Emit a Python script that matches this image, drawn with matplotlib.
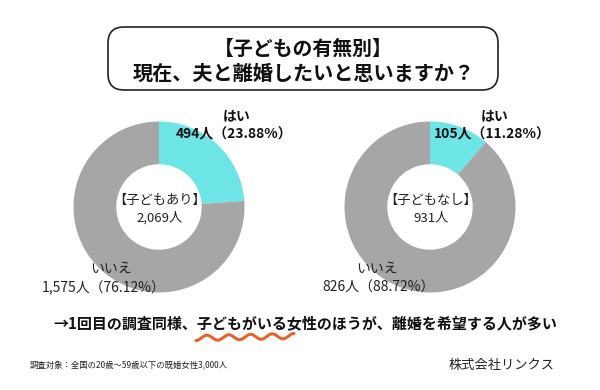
import numpy as np
import matplotlib
matplotlib.use("Agg")
import matplotlib.pyplot as plt
from matplotlib.patches import FancyBboxPatch

plt.rcParams['font.family'] = ['Noto Sans CJK JP', 'DejaVu Sans']

# ---- data ----
groups = ['【子どもあり】', '【子どもなし】']
answers = ['はい', 'いいえ']
yes_counts = [494, 105]
no_counts = [1575, 826]
yes_pct = [23.88, 11.28]
no_pct = [76.12, 88.72]
title_lines = ['【子どもの有無別】', '現在、夫と離婚したいと思いますか？']
note = '→1回目の調査同様、子どもがいる女性のほうが、離婚を希望する人が多い'
footer_left = '調査対象：全国の20歳～59歳以下の既婚女性3,000人'
footer_right = '株式会社リンクス'

colors = ['#6de4e6', '#a6a6a6']

W, H = 600, 390
fig = plt.figure(figsize=(6, 3.9), dpi=100)
ax = fig.add_axes([0, 0, 1, 1])

def Y(y):
    return H - y

centers = [(159, 207), (430, 207)]
radius = 85.5
for i, (cx, cy) in enumerate(centers):
    ax.pie([yes_counts[i], no_counts[i]], colors=colors, startangle=90,
           counterclock=False, center=(cx, Y(cy)), radius=radius,
           wedgeprops=dict(width=radius * 0.5, linewidth=0), frame=True)
    total = yes_counts[i] + no_counts[i]
    ax.text(cx + 1, Y(200), groups[i], ha='center', va='center', fontsize=9.5, color='#222222')
    ax.text(cx + 1, Y(218), f'{total:,}人', ha='center', va='center', fontsize=9.5, color='#222222')

# slice labels
yes_pos = [(237, 116, 234, 134), (495, 116, 492, 134)]
no_pos = [(111, 269, 104, 288), (377, 269, 379, 288)]
for i in range(2):
    hx, hy, nx, ny = yes_pos[i]
    ax.text(hx, Y(hy), answers[0], ha='center', va='center', fontsize=10, fontweight='bold', color='#111111')
    ax.text(nx, Y(ny), f'{yes_counts[i]:,}人（{yes_pct[i]:.2f}%）', ha='center', va='center',
            fontsize=10, fontweight='bold', color='#111111')
    hx, hy, nx, ny = no_pos[i]
    ax.text(hx, Y(hy), answers[1], ha='center', va='center', fontsize=10, color='#222222')
    ax.text(nx, Y(ny), f'{no_counts[i]:,}人（{no_pct[i]:.2f}%）', ha='center', va='center',
            fontsize=10, color='#222222')

# title box
box = FancyBboxPatch((108, Y(90)), 390, 63, boxstyle='round,pad=0,rounding_size=16',
                     fc='white', ec='#222222', lw=1.2)
ax.add_patch(box)
ax.text(303, Y(48), title_lines[0], ha='center', va='center', fontsize=14.3, fontweight='bold', color='#111111')
ax.text(304, Y(73), title_lines[1], ha='center', va='center', fontsize=14.5, fontweight='bold', color='#111111')

# bottom note
ax.text(305, Y(323), note, ha='center', va='center', fontsize=10.8, fontweight='bold', color='#111111')
xs = np.linspace(196, 294, 200)
t = (xs - 196) / 98
ys = 337 + 2.6 * np.sin(t * 2 * np.pi * 4.5 + np.pi / 2) + 2.0 * (0.5 - t)
ax.plot(xs, [Y(v) for v in ys], color='#e8622c', lw=2.2, solid_capstyle='round')

ax.text(30, Y(366), footer_left, ha='left', va='center', fontsize=6, color='#222222')
ax.text(555, Y(365), footer_right, ha='right', va='center', fontsize=9.5, color='#222222')

ax.set_xlim(0, W)
ax.set_ylim(0, H)
ax.set_aspect('auto')
ax.axis('off')
fig.savefig('out.png', dpi=100, facecolor='white')
